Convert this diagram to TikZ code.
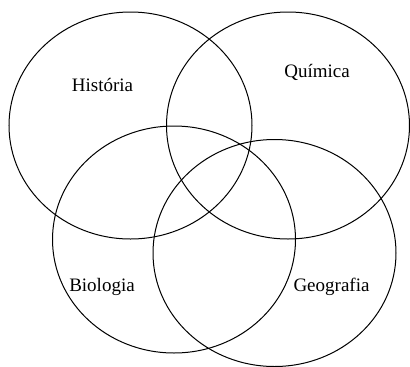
\documentclass[tikz,border=0pt]{standalone}
\usepackage{fontspec}
\setmainfont{Liberation Serif}
\newfontfamily\labelfont{Liberation Serif}
\usetikzlibrary{positioning}

\tikzset{
    setring/.style={draw=black, line width=1pt},
    setlabel/.style={anchor=base, inner sep=0pt, font=\labelfont\fontsize{19}{22}\selectfont}
}

\begin{document}
\begin{tikzpicture}[x=1pt, y=-1pt]
        \useasboundingbox (0,0) rectangle (410,367);
        % the four sets
        \draw[setring] (130.5,125.5) ellipse [x radius=121.5, y radius=113.5];
        \draw[setring] (288,125.5) ellipse [x radius=121.5, y radius=113.5];
        \draw[setring] (174,239.5) ellipse [x radius=121.5, y radius=113.5];
        \draw[setring] (274.5,253) ellipse [x radius=121.5, y radius=113.5];
        % labels
        \node[setlabel] (historia) at (102.5,91) {História};
        \node[setlabel] (quimica) at (317,77) {Química};
        \node[setlabel] (biologia) at (102,291) {Biologia};
        \node[setlabel] (geografia) at (331.5,291) {Geografia};
    \end{tikzpicture}
\end{document}
